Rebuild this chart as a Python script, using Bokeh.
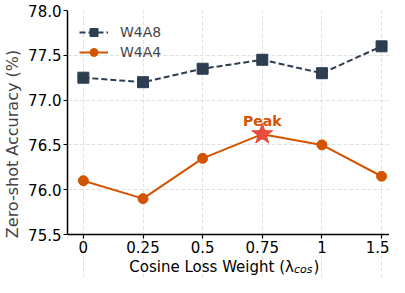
from bokeh.plotting import figure
from bokeh.models import Range1d, FixedTicker, Legend, LegendItem, Label
from bokeh.core.properties import value
from bokeh.embed import file_html
from bokeh.resources import INLINE

lambdas = ["0", "0.25", "0.5", "0.75", "1", "1.5"]
w4a8 = [77.25, 77.20, 77.35, 77.45, 77.30, 77.60]
w4a4 = [76.10, 75.90, 76.35, 76.62, 76.50, 76.15]
y_ticks = [75.5, 76.0, 76.5, 77.0, 77.5, 78.0]
y_labels = ["75.5", "76.0", "76.5", "77.0", "77.5", "78.0"]

xs = list(range(len(lambdas)))
FONT = "DejaVu Sans"
C8 = "#2c3e50"
C4 = "#d35400"
CSTAR = "#e74c3c"

Y0, Y1 = y_ticks[0], y_ticks[-1]
H, TOP = 277, 10
AXIS_Y = 234                       # canvas y of the x axis line
px_per_unit = (AXIS_Y - TOP) / (Y1 - Y0)
bottom_extra = (H - AXIS_Y) / px_per_unit

p = figure(width=389, height=H, output_backend="svg", toolbar_location=None,
           x_range=Range1d(-0.266, 5.133), y_range=Range1d(Y0 - bottom_extra, Y1),
           min_border_left=64, min_border_right=0, min_border_top=TOP, min_border_bottom=0)
p.outline_line_color = None
p.background_fill_color = "white"

for ax in (p.xaxis, p.yaxis):
    ax.axis_line_width = 1.5
    ax.axis_line_color = "black"
    ax.major_tick_line_width = 1.2
    ax.major_tick_out = 4
    ax.major_tick_in = 0
    ax.minor_tick_line_color = None
    ax.major_label_text_font = FONT
    ax.major_label_text_font_size = "15px"
    ax.major_label_text_color = "black"
    ax.major_label_standoff = 2

p.xaxis.fixed_location = Y0
p.xaxis.ticker = FixedTicker(ticks=xs)
p.xaxis.major_label_overrides = {i: s for i, s in enumerate(lambdas)}
p.yaxis.ticker = FixedTicker(ticks=y_ticks)
p.yaxis.bounds = (Y0, Y1)
p.yaxis.major_label_overrides = {t: s for t, s in zip(y_ticks, y_labels)}
p.yaxis.axis_label = "Zero-shot Accuracy (%)"
p.yaxis.axis_label_text_font = FONT
p.yaxis.axis_label_text_font_size = "16px"
p.yaxis.axis_label_text_font_style = "normal"
p.yaxis.axis_label_standoff = 3

for g in (p.xgrid, p.ygrid):
    g.grid_line_color = "#d9d9d9"
    g.grid_line_dash = "4 2"
    g.grid_line_width = 1
    g.grid_line_alpha = 0.8
p.xgrid.bounds = (Y0, Y1)

l8 = p.line(xs, w4a8, line_color=C8, line_width=2, line_dash="6 3")
s8 = p.scatter(xs, w4a8, marker="square", size=11, fill_color=C8, line_color=C8)
l4 = p.line(xs, w4a4, line_color=C4, line_width=2)
s4 = p.scatter(xs, w4a4, marker="circle", size=10, fill_color=C4, line_color=C4)

peak_i = max(range(len(w4a4)), key=lambda i: w4a4[i])
p.scatter([xs[peak_i]], [w4a4[peak_i]], marker="star", size=22, fill_color=CSTAR, line_color=CSTAR)
p.text([xs[peak_i]], [w4a4[peak_i]], text=["Peak"], text_align="center", text_baseline="alphabetic",
       y_offset=-13, text_font=value(FONT), text_font_style="bold", text_font_size="14px", text_color=C4)

legend = Legend(items=[LegendItem(label="W4A8", renderers=[l8, s8]),
                       LegendItem(label="W4A4", renderers=[l4, s4])],
                location="top_left")
legend.label_text_font = FONT
legend.label_text_font_size = "14px"
legend.glyph_width = 29
legend.label_standoff = 12
legend.spacing = 0
legend.label_height = 20
legend.glyph_height = 20
legend.margin = 12
legend.padding = 0
legend.border_line_color = None
legend.background_fill_alpha = 0.0
p.add_layout(legend)

# x-axis label with subscript, drawn in the extended frame below the axis line
ylab = Y0 - 32 / px_per_unit
xl = 3.53
p.add_layout(Label(x=xl, y=ylab, text="Cosine Loss Weight (λ", text_align="right", text_baseline="alphabetic",
                   text_font=FONT, text_font_size="15px", text_color="black"))
p.add_layout(Label(x=xl, y=ylab, y_offset=-3, text="cos", text_align="left", text_baseline="alphabetic",
                   text_font=FONT, text_font_size="11px", text_font_style="italic", text_color="black"))
p.add_layout(Label(x=xl + 0.33, y=ylab, text=")", text_align="left", text_baseline="alphabetic",
                   text_font=FONT, text_font_size="15px", text_color="black"))

open("out.html", "w").write(file_html(p, INLINE))
